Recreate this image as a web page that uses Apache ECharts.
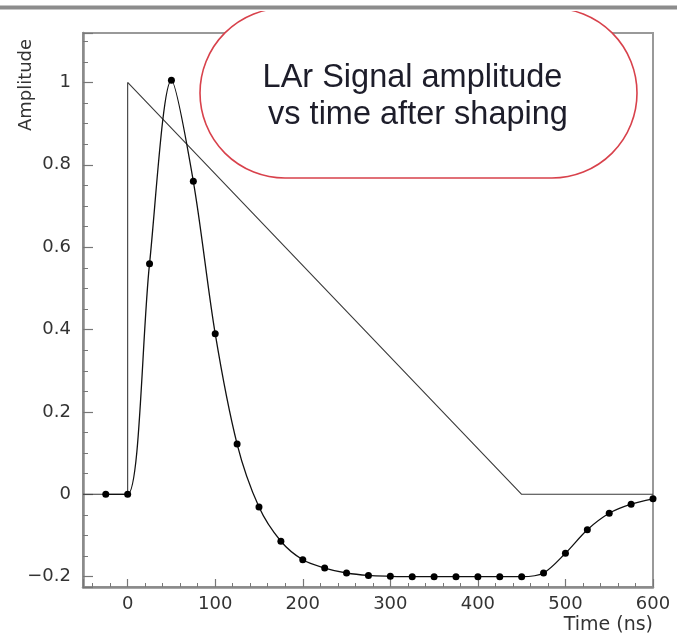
<!DOCTYPE html>
<html>
<head>
<meta charset="utf-8">
<title>LAr signal shaping</title>
<script src="https://cdn.jsdelivr.net/npm/echarts@6/dist/echarts.min.js"></script>
<style>
  html, body { margin: 0; padding: 0; background: #ffffff; }
  #chart { width: 677px; height: 636px; }
</style>
</head>
<body>
<div id="chart"></div>
<script>
// Triangular ionisation current in liquid argon (normalised), drift time 450 ns
const triangleTime = [-51, 0, 0, 450, 600];
const triangleAmp = [0, 0, 1, 0, 0];

// Pulse after bipolar shaping, sampled every 25 ns
const sampleTime = [-25, 0, 25, 50, 75, 100, 125, 150, 175, 200, 225, 250, 275,
                    300, 325, 350, 375, 400, 425, 450, 475, 500, 525, 550, 575, 600];
const sampleAmp = [0, 0, 0.56, 1.005, 0.76, 0.39, 0.122, -0.031, -0.114, -0.159, -0.179, -0.191, -0.197,
                   -0.199, -0.2, -0.2, -0.2, -0.2, -0.2, -0.2, -0.191, -0.143, -0.086, -0.046, -0.024, -0.011];

// Labelled axis ticks
const xTickLabels = [0, 100, 200, 300, 400, 500, 600];
const yTickLabels = [-0.2, 0, 0.2, 0.4, 0.6, 0.8, 1];

const zip = (xs, ys) => xs.map((x, i) => [x, ys[i]]);
const hasTick = (list, v) => list.some(t => Math.abs(t - v) < 1e-6);
const minus = s => String(s).replace('-', '\u2212');

const axisGray = '#8a8a8a';
const tickFont = { fontFamily: 'DejaVu Sans', fontSize: 18, color: '#333333' };

const chart = echarts.init(document.getElementById('chart'), null, { renderer: 'canvas' });

chart.setOption({
  backgroundColor: '#ffffff',
  animation: false,
  grid: {
    left: 83, right: 24, top: 33, bottom: 49,
    show: true, borderColor: '#999999', borderWidth: 2, backgroundColor: 'transparent'
  },
  xAxis: {
    type: 'value',
    min: -51, max: 600,
    splitNumber: 6,
    axisLine: { show: true, onZero: false, lineStyle: { color: axisGray, width: 2.5 } },
    axisTick: { show: true, inside: true, length: 8, lineStyle: { color: '#777777', width: 1.2 } },
    minorTick: { show: true, splitNumber: 5, length: 4, lineStyle: { color: '#777777', width: 1 } },
    splitLine: { show: false },
    axisLabel: {
      margin: 8, ...tickFont,
      formatter: v => hasTick(xTickLabels, v) ? String(Math.round(v)) : ''
    }
  },
  yAxis: {
    type: 'value',
    min: -0.225, max: 1.12,
    splitNumber: 7,
    axisLine: { show: true, onZero: false, lineStyle: { color: axisGray, width: 2.5 } },
    axisTick: { show: true, inside: true, length: 10, lineStyle: { color: '#777777', width: 1.2 } },
    minorTick: { show: true, splitNumber: 4, length: 5, lineStyle: { color: '#777777', width: 1 } },
    splitLine: { show: false },
    axisLabel: {
      margin: 12, ...tickFont,
      formatter: v => hasTick(yTickLabels, v) ? minus(parseFloat(v.toFixed(1))) : ''
    }
  },
  series: [
    {
      name: 'Ionisation current',
      type: 'line',
      data: zip(triangleTime, triangleAmp),
      showSymbol: false,
      symbol: 'none',
      lineStyle: { color: '#3a3a3a', width: 1.1 },
      z: 2
    },
    {
      name: 'Shaped signal',
      type: 'line',
      data: zip(sampleTime, sampleAmp),
      smooth: 0.3,
      symbol: 'circle',
      symbolSize: 7,
      itemStyle: { color: '#000000' },
      lineStyle: { color: '#111111', width: 1.3 },
      z: 3
    }
  ],
  graphic: [
    // callout bubble
    {
      type: 'rect', z: 100,
      shape: { x: 200, y: 8, width: 437, height: 170, r: 85 },
      style: { fill: '#ffffff', stroke: '#d8414b', lineWidth: 1.6 }
    },
    // white margin above the header rule
    {
      type: 'rect', z: 101,
      shape: { x: 0, y: 0, width: 677, height: 11 },
      style: { fill: '#ffffff' }
    },
    // header rule
    {
      type: 'rect', z: 102,
      shape: { x: 0, y: 5.5, width: 677, height: 4 },
      style: { fill: '#8c8c8c' }
    },
    {
      type: 'text', z: 103, x: 412.5, y: 78,
      style: {
        text: 'LAr Signal amplitude',
        fontFamily: 'Liberation Sans, Arial, sans-serif', fontSize: 32.5,
        fill: '#1d1d2a', align: 'center', verticalAlign: 'middle'
      }
    },
    {
      type: 'text', z: 103, x: 418, y: 115,
      style: {
        text: 'vs time after shaping',
        fontFamily: 'Liberation Sans, Arial, sans-serif', fontSize: 32.5,
        fill: '#1d1d2a', align: 'center', verticalAlign: 'middle'
      }
    },
    // axis titles
    {
      type: 'text', z: 103, x: 26, y: 85, rotation: Math.PI / 2,
      style: {
        text: 'Amplitude',
        fontFamily: 'DejaVu Sans', fontSize: 18,
        fill: '#333333', align: 'center', verticalAlign: 'middle'
      }
    },
    {
      type: 'text', z: 103, x: 653, y: 625,
      style: {
        text: 'Time (ns)',
        fontFamily: 'DejaVu Sans', fontSize: 19,
        fill: '#333333', align: 'right', verticalAlign: 'middle'
      }
    }
  ]
});
</script>
</body>
</html>
